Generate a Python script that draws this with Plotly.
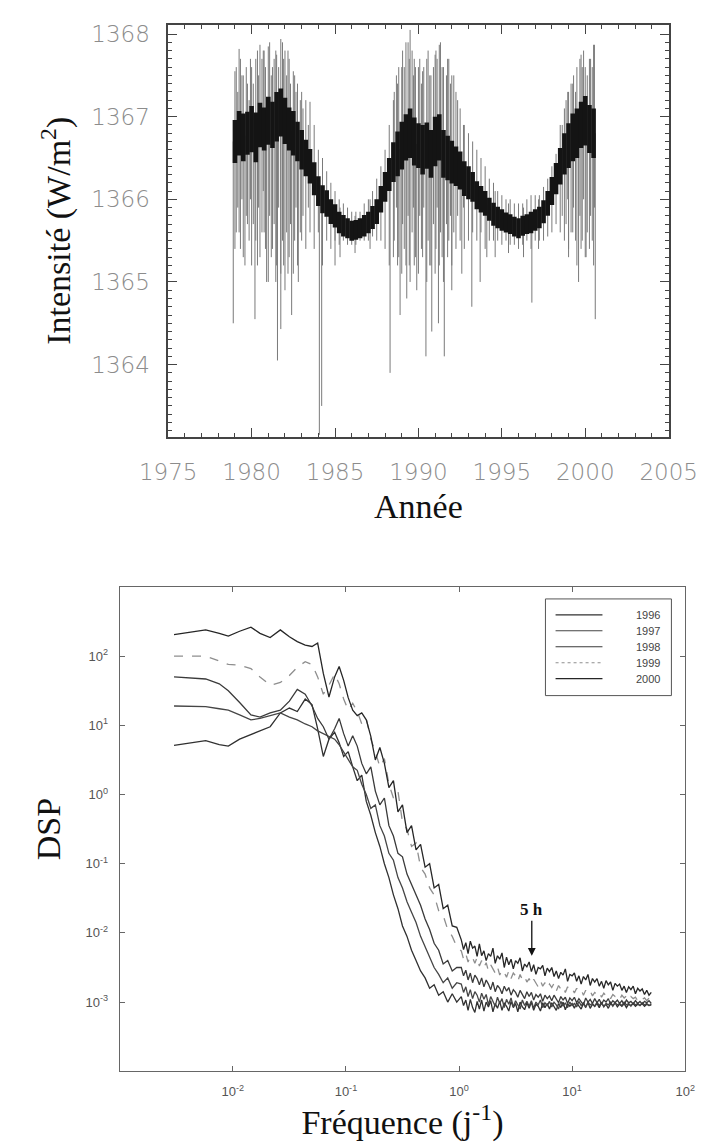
import numpy as np
import plotly.graph_objects as go

# ---------------- Top chart: total solar irradiance ----------------
tsi_years = [1979.00, 1979.25, 1979.50, 1979.75, 1980.00, 1980.25, 1980.50, 1980.75,
             1981.00, 1981.25, 1981.50, 1981.75, 1982.00, 1982.25, 1982.50, 1982.75,
             1983.00, 1983.25, 1983.50, 1983.75, 1984.00, 1984.25, 1984.50, 1984.75,
             1985.00, 1985.25, 1985.50, 1985.75, 1986.00, 1986.25, 1986.50, 1986.75,
             1987.00, 1987.25, 1987.50, 1987.75, 1988.00, 1988.25, 1988.50, 1988.75,
             1989.00, 1989.25, 1989.50, 1989.75, 1990.00, 1990.25, 1990.50, 1990.75,
             1991.00, 1991.25, 1991.50, 1991.75, 1992.00, 1992.25, 1992.50, 1992.75,
             1993.00, 1993.25, 1993.50, 1993.75, 1994.00, 1994.25, 1994.50, 1994.75,
             1995.00, 1995.25, 1995.50, 1995.75, 1996.00, 1996.25, 1996.50, 1996.75,
             1997.00, 1997.25, 1997.50, 1997.75, 1998.00, 1998.25, 1998.50, 1998.75,
             1999.00, 1999.25, 1999.50, 1999.75, 2000.00, 2000.25, 2000.50]
tsi_center = [1366.70, 1366.80, 1366.75, 1366.80, 1366.85, 1366.75, 1366.90, 1366.85,
              1366.95, 1366.90, 1367.00, 1367.05, 1366.95, 1366.85, 1366.80, 1366.70,
              1366.60, 1366.50, 1366.40, 1366.25, 1366.10, 1366.00, 1365.95, 1365.85,
              1365.80, 1365.72, 1365.68, 1365.65, 1365.62, 1365.63, 1365.65, 1365.68,
              1365.72, 1365.78, 1365.85, 1366.00, 1366.15, 1366.30, 1366.45, 1366.55,
              1366.65, 1366.75, 1366.80, 1366.70, 1366.65, 1366.60, 1366.65, 1366.55,
              1366.70, 1366.75, 1366.55, 1366.50, 1366.45, 1366.40, 1366.35, 1366.25,
              1366.20, 1366.15, 1366.05, 1366.00, 1365.95, 1365.88, 1365.82, 1365.78,
              1365.75, 1365.72, 1365.70, 1365.67, 1365.65, 1365.68, 1365.70, 1365.72,
              1365.75, 1365.78, 1365.85, 1365.95, 1366.10, 1366.25, 1366.40, 1366.55,
              1366.65, 1366.75, 1366.80, 1366.90, 1366.95, 1366.85, 1366.80]
tsi_halfwidth = [0.26, 0.27, 0.29, 0.26, 0.28, 0.30, 0.27, 0.26,
                 0.29, 0.28, 0.30, 0.29, 0.28, 0.26, 0.27, 0.24,
                 0.24, 0.22, 0.21, 0.20, 0.18, 0.17, 0.16, 0.15,
                 0.14, 0.13, 0.13, 0.12, 0.12, 0.12, 0.12, 0.13,
                 0.13, 0.14, 0.15, 0.16, 0.18, 0.20, 0.24, 0.27,
                 0.29, 0.28, 0.30, 0.29, 0.27, 0.30, 0.28, 0.29,
                 0.30, 0.28, 0.29, 0.27, 0.26, 0.24, 0.23, 0.21,
                 0.20, 0.18, 0.17, 0.16, 0.15, 0.14, 0.14, 0.13,
                 0.13, 0.12, 0.12, 0.12, 0.12, 0.12, 0.12, 0.13,
                 0.13, 0.13, 0.14, 0.15, 0.17, 0.19, 0.22, 0.25,
                 0.27, 0.29, 0.30, 0.28, 0.30, 0.29, 0.30]
tsi_min = [1365.40, 1365.60, 1365.30, 1365.70, 1365.20, 1365.50, 1365.30, 1365.60,
           1365.00, 1365.40, 1365.20, 1365.10, 1364.90, 1365.30, 1365.10, 1365.20,
           1365.50, 1365.40, 1365.60, 1365.40, 1365.60, 1365.20, 1365.50, 1365.40,
           1365.50, 1365.45, 1365.50, 1365.45, 1365.45, 1365.45, 1365.50, 1365.50,
           1365.50, 1365.55, 1365.50, 1365.50, 1365.40, 1365.20, 1365.30, 1365.20,
           1365.10, 1365.20, 1365.00, 1365.20, 1365.10, 1365.30, 1365.00, 1365.20,
           1365.10, 1365.20, 1365.00, 1365.30, 1365.20, 1365.40, 1365.50, 1365.40,
           1365.50, 1365.60, 1365.50, 1365.60, 1365.40, 1365.50, 1365.50, 1365.50,
           1365.45, 1365.50, 1365.45, 1365.45, 1365.40, 1365.45, 1365.50, 1365.40,
           1365.50, 1365.50, 1365.50, 1365.55, 1365.60, 1365.70, 1365.60, 1365.50,
           1365.40, 1365.60, 1365.20, 1365.40, 1365.30, 1365.40, 1365.20]
tsi_max = [1367.55, 1367.82, 1367.50, 1367.40, 1367.60, 1367.70, 1367.87, 1367.80,
           1367.85, 1367.60, 1367.75, 1367.94, 1367.80, 1367.70, 1367.55, 1367.40,
           1367.30, 1367.20, 1367.18, 1366.90, 1366.60, 1366.50, 1366.34, 1366.20,
           1366.10, 1366.00, 1365.95, 1365.90, 1365.85, 1365.85, 1365.85, 1365.95,
           1366.00, 1366.10, 1366.25, 1366.40, 1366.60, 1366.90, 1367.20, 1367.40,
           1367.60, 1367.90, 1368.05, 1367.70, 1367.60, 1367.55, 1367.70, 1367.50,
           1367.75, 1367.87, 1367.60, 1367.70, 1367.50, 1367.30, 1367.10, 1366.90,
           1366.80, 1366.70, 1366.60, 1366.50, 1366.40, 1366.25, 1366.20, 1366.10,
           1366.05, 1366.00, 1366.00, 1365.95, 1365.95, 1365.95, 1366.00, 1366.05,
           1366.05, 1366.05, 1366.15, 1366.25, 1366.40, 1366.55, 1366.90, 1367.10,
           1367.30, 1367.40, 1367.60, 1367.75, 1367.60, 1367.70, 1367.87]
# individual daily excursions (low, high) at irregular dates
exc_years = [1979.08, 1979.17, 1979.33, 1979.42, 1979.68, 1979.85, 1979.93, 1980.10,
             1980.35, 1980.42, 1980.62, 1980.70, 1980.83, 1981.08, 1981.18, 1981.35,
             1981.45, 1981.62, 1981.85, 1981.92, 1982.10, 1982.18, 1982.33, 1982.58,
             1982.66, 1982.92, 1983.08, 1983.40, 1985.30, 1986.20, 1987.10,
             1988.55, 1988.68, 1988.82, 1989.05, 1989.15, 1989.38, 1989.45, 1989.62,
             1989.70, 1989.82, 1990.08, 1990.18, 1990.32, 1990.58, 1990.68, 1990.90,
             1991.05, 1991.12, 1991.32, 1991.42, 1991.68, 1991.82, 1991.92, 1992.12,
             1992.35, 1992.70, 1994.60, 1995.40, 1996.30, 1997.20,
             1998.62, 1998.85, 1998.95, 1999.15, 1999.30, 1999.42, 1999.68, 1999.82,
             1999.90, 2000.12, 2000.32, 2000.42, 2000.55]
exc_low = [1365.6, 1365.9, 1365.4, 1366.0, 1365.8, 1365.5, 1366.0, 1365.7,
           1365.2, 1365.9, 1365.6, 1366.1, 1365.4, 1365.8, 1365.3, 1365.7,
           1365.0, 1365.9, 1365.5, 1365.2, 1365.6, 1365.1, 1365.7, 1365.5,
           1365.9, 1365.6, 1365.8, 1365.9, 1365.30, 1365.35, 1365.40,
           1365.5, 1365.9, 1365.3, 1365.7, 1365.4, 1365.8, 1365.2, 1365.6,
           1365.9, 1365.3, 1365.8, 1365.4, 1365.9, 1365.5, 1365.2, 1365.7,
           1365.4, 1365.9, 1365.6, 1365.3, 1365.7, 1365.5, 1365.8, 1365.6,
           1365.8, 1365.9, 1365.30, 1365.35, 1365.30, 1365.40,
           1365.8, 1365.7, 1366.0, 1365.6, 1365.9, 1365.5, 1365.8, 1365.5,
           1366.0, 1365.6, 1365.8, 1365.5, 1365.9]
exc_high = [1367.6, 1367.3, 1367.7, 1367.5, 1367.6, 1367.2, 1367.7, 1367.4,
            1367.8, 1367.5, 1367.7, 1367.8, 1367.6, 1367.9, 1367.5, 1367.7,
            1367.8, 1367.6, 1367.9, 1367.7, 1367.5, 1367.8, 1367.4, 1367.5,
            1367.3, 1367.2, 1367.1, 1366.9, 1365.90, 1365.80, 1366.00,
            1367.3, 1367.5, 1367.6, 1367.8, 1367.6, 1367.9, 1367.7, 1367.8,
            1367.5, 1367.6, 1367.7, 1367.4, 1367.6, 1367.8, 1367.5, 1367.6,
            1367.8, 1367.7, 1367.9, 1367.6, 1367.5, 1367.7, 1367.4, 1367.5,
            1367.2, 1366.9, 1366.10, 1365.95, 1365.90, 1366.00,
            1366.9, 1367.2, 1367.3, 1367.4, 1367.5, 1367.3, 1367.7, 1367.6,
            1367.8, 1367.5, 1367.7, 1367.6, 1367.87]
# deep individual dips (sunspot transits)
dip_years = [1978.90, 1979.60, 1980.20, 1980.90, 1981.55, 1981.75, 1982.40, 1982.80,
             1984.06, 1984.20, 1985.00, 1988.30, 1988.90, 1989.30, 1989.90, 1990.45,
             1990.80, 1991.20, 1991.55, 1992.00, 1992.60, 1993.20, 1993.70, 1994.10,
             1996.80, 1999.00, 1999.60, 2000.05, 2000.60]
dip_values = [1364.50, 1365.20, 1364.55, 1365.00, 1364.05, 1364.43, 1364.60, 1365.00,
              1363.15, 1363.50, 1365.20, 1363.90, 1364.60, 1364.80, 1364.90, 1364.10,
              1364.40, 1364.50, 1364.10, 1364.90, 1365.10, 1364.70, 1365.00, 1365.30,
              1364.75, 1365.30, 1365.00, 1365.30, 1364.55]

year_ticks = [1975, 1980, 1985, 1990, 1995, 2000, 2005]
tsi_ticks = [1364, 1365, 1366, 1367, 1368]

# ---------------- Bottom chart: DSP per year (log10 values) ----------------
freq_log10 = [-2.52, -2.38, -2.24, -2.12, -2.04, -1.94, -1.84, -1.76, -1.67, -1.58,
              -1.50, -1.43, -1.36, -1.30, -1.25, -1.20, -1.15, -1.10, -1.06, -1.02,
              -0.98, -0.94, -0.90, -0.86, -0.82, -0.78, -0.74, -0.70, -0.66, -0.62,
              -0.58, -0.54, -0.50, -0.46, -0.42, -0.38, -0.34, -0.30, -0.26, -0.22,
              -0.18, -0.14, -0.10, -0.06, -0.02,
              0.02, 0.04, 0.06, 0.08, 0.10, 0.12, 0.14, 0.16, 0.18, 0.20,
              0.22, 0.24, 0.26, 0.28, 0.30, 0.32, 0.34, 0.36, 0.38, 0.40,
              0.42, 0.44, 0.46, 0.48, 0.50, 0.52, 0.54, 0.56, 0.58, 0.60,
              0.62, 0.64, 0.66, 0.68, 0.70, 0.72, 0.74, 0.76, 0.78, 0.80,
              0.82, 0.84, 0.86, 0.88, 0.90, 0.92, 0.94, 0.96, 0.98, 1.00,
              1.02, 1.04, 1.06, 1.08, 1.10, 1.12, 1.14, 1.16, 1.18, 1.20,
              1.22, 1.24, 1.26, 1.28, 1.30, 1.32, 1.34, 1.36, 1.38, 1.40,
              1.42, 1.44, 1.46, 1.48, 1.50, 1.52, 1.54, 1.56, 1.58, 1.60,
              1.62, 1.64, 1.66, 1.68, 1.70]

dsp_1996_log10 = [0.71, 0.75, 0.78, 0.72, 0.70, 0.80, 0.87, 0.92, 0.98, 1.18,
                  1.25, 1.20, 1.38, 1.30, 0.95, 0.55, 0.80, 0.90, 0.75, 0.55,
                  0.62, 0.40, 0.20, 0.28, -0.10, -0.30, -0.55, -0.75, -1.00, -1.20,
                  -1.45, -1.65, -1.90, -2.05, -2.25, -2.40, -2.55, -2.65, -2.80, -2.75,
                  -2.90, -2.85, -3.00, -2.88, -3.00,
                  -2.92, -3.05, -2.97, -3.12, -2.96, -3.08, -3.15, -2.99, -3.10, -2.97,
                  -3.13, -3.00, -3.07, -2.98, -3.14, -3.02, -3.09, -2.99, -3.12, -3.01,
                  -3.06, -3.13, -2.99, -3.08, -3.02, -3.14, -3.00, -3.07, -3.11, -3.01,
                  -3.09, -3.00, -3.12, -3.03, -3.06, -3.13, -3.01, -3.08, -3.02, -3.10,
                  -3.01, -3.07, -3.12, -3.02, -3.08, -3.00, -3.11, -3.03, -3.06, -3.02,
                  -3.09, -3.01, -3.06, -3.10, -3.02, -3.07, -3.01, -3.09, -3.03, -3.06,
                  -3.02, -3.08, -3.01, -3.06, -3.03, -3.09, -3.02, -3.05, -3.01, -3.07,
                  -3.03, -3.06, -3.02, -3.08, -3.03, -3.05, -3.02, -3.06, -3.03, -3.05,
                  -3.02, -3.06, -3.03, -3.05, -3.04]
dsp_1997_log10 = [1.28, 1.28, 1.27, 1.24, 1.22, 1.15, 1.08, 1.10, 1.14, 1.18,
                  1.12, 1.08, 1.02, 0.98, 0.92, 0.88, 0.85, 0.80, 0.72, 0.62,
                  0.50, 0.40, 0.35, 0.15, 0.00, -0.20, -0.15, -0.45, -0.60, -0.85,
                  -0.95, -1.20, -1.35, -1.55, -1.70, -1.85, -2.05, -2.20, -2.35, -2.50,
                  -2.60, -2.72, -2.65, -2.80, -2.72,
                  -2.74, -2.86, -2.78, -2.92, -2.82, -2.95, -2.85, -2.90, -3.00, -2.87,
                  -2.96, -2.89, -3.04, -2.92, -2.98, -3.06, -2.93, -3.02, -2.95, -3.08,
                  -2.96, -3.03, -2.94, -3.07, -2.98, -3.04, -3.10, -2.97, -3.05, -2.99,
                  -3.06, -2.98, -3.09, -3.00, -3.04, -2.97, -3.08, -3.01, -3.05, -2.99,
                  -3.07, -3.00, -3.04, -3.10, -2.99, -3.06, -3.01, -3.08, -3.00, -3.05,
                  -3.02, -3.07, -2.99, -3.05, -3.01, -3.08, -3.00, -3.04, -3.02, -3.06,
                  -3.00, -3.05, -3.01, -3.07, -3.02, -3.04, -3.00, -3.06, -3.01, -3.04,
                  -3.02, -3.05, -3.00, -3.04, -3.02, -3.06, -3.01, -3.04, -3.02, -3.05,
                  -3.01, -3.04, -3.02, -3.05, -3.03]
dsp_1998_log10 = [1.70, 1.69, 1.67, 1.60, 1.50, 1.33, 1.15, 1.12, 1.18, 1.22,
                  1.35, 1.52, 1.45, 1.28, 1.10, 0.98, 0.80, 0.95, 1.10, 0.88,
                  0.70, 0.85, 0.70, 0.45, 0.30, 0.40, 0.05, -0.15, -0.05, -0.45,
                  -0.60, -0.85, -0.90, -1.15, -1.30, -1.45, -1.60, -1.80, -1.95, -2.15,
                  -2.25, -2.45, -2.40, -2.55, -2.50,
                  -2.50, -2.62, -2.54, -2.68, -2.58, -2.72, -2.61, -2.66, -2.75, -2.65,
                  -2.78, -2.68, -2.74, -2.82, -2.71, -2.85, -2.76, -2.80, -2.88, -2.77,
                  -2.84, -2.79, -2.90, -2.82, -2.86, -2.93, -2.83, -2.89, -2.95, -2.85,
                  -2.92, -2.86, -2.97, -2.89, -2.93, -2.88, -2.99, -2.90, -2.95, -2.91,
                  -2.98, -2.90, -2.96, -3.01, -2.92, -2.97, -2.93, -3.02, -2.94, -2.98,
                  -2.93, -3.01, -2.95, -2.99, -3.04, -2.94, -3.00, -2.96, -3.02, -2.95,
                  -3.01, -2.96, -3.03, -2.97, -3.00, -2.95, -3.03, -2.98, -3.01, -2.97,
                  -3.02, -2.98, -3.04, -2.97, -3.01, -2.99, -3.03, -2.98, -3.02, -2.99,
                  -3.03, -2.99, -3.01, -2.98, -3.02]
dsp_1999_log10 = [2.00, 2.00, 2.00, 1.93, 1.88, 1.87, 1.82, 1.70, 1.58, 1.62,
                  1.72, 1.84, 1.92, 1.88, 1.70, 1.45, 1.58, 1.74, 1.60, 1.38,
                  1.22, 1.32, 1.20, 1.02, 1.10, 0.80, 0.62, 0.40, 0.52, 0.15,
                  -0.05, 0.05, -0.40, -0.50, -0.75, -0.70, -1.05, -1.15, -1.35, -1.45,
                  -1.68, -1.75, -1.95, -2.05, -2.20,
                  -2.26, -2.38, -2.30, -2.42, -2.33, -2.36, -2.44, -2.35, -2.48, -2.40,
                  -2.50, -2.43, -2.55, -2.46, -2.52, -2.58, -2.49, -2.61, -2.53, -2.57,
                  -2.64, -2.55, -2.66, -2.58, -2.62, -2.70, -2.60, -2.68, -2.63, -2.71,
                  -2.66, -2.74, -2.67, -2.72, -2.78, -2.69, -2.77, -2.72, -2.80, -2.74,
                  -2.79, -2.73, -2.84, -2.76, -2.81, -2.77, -2.86, -2.78, -2.83, -2.80,
                  -2.87, -2.80, -2.85, -2.82, -2.90, -2.83, -2.88, -2.84, -2.91, -2.86,
                  -2.89, -2.85, -2.93, -2.87, -2.91, -2.88, -2.95, -2.89, -2.92, -2.90,
                  -2.96, -2.90, -2.94, -2.91, -2.97, -2.92, -2.95, -2.93, -2.98, -2.93,
                  -2.96, -2.94, -2.98, -2.94, -2.96]
dsp_2000_log10 = [2.31, 2.34, 2.38, 2.33, 2.29, 2.36, 2.42, 2.33, 2.27, 2.38,
                  2.28, 2.21, 2.16, 2.14, 2.19, 1.75, 1.41, 1.70, 1.85, 1.65,
                  1.40, 1.22, 1.14, 1.18, 1.08, 0.84, 0.50, 0.68, 0.45, 0.10,
                  0.20, -0.25, -0.15, -0.55, -0.45, -0.80, -0.72, -1.05, -1.00, -1.35,
                  -1.30, -1.65, -1.60, -1.90, -1.92,
                  -2.10, -2.24, -2.14, -2.30, -2.12, -2.22, -2.19, -2.34, -2.16, -2.33,
                  -2.26, -2.40, -2.30, -2.34, -2.22, -2.44, -2.33, -2.38, -2.29, -2.50,
                  -2.35, -2.46, -2.38, -2.52, -2.40, -2.44, -2.36, -2.55, -2.45, -2.49,
                  -2.42, -2.56, -2.46, -2.60, -2.50, -2.52, -2.47, -2.62, -2.51, -2.56,
                  -2.50, -2.63, -2.55, -2.66, -2.57, -2.61, -2.52, -2.70, -2.60, -2.62,
                  -2.58, -2.70, -2.62, -2.74, -2.63, -2.68, -2.60, -2.76, -2.66, -2.71,
                  -2.66, -2.77, -2.70, -2.80, -2.69, -2.75, -2.71, -2.83, -2.73, -2.77,
                  -2.74, -2.83, -2.77, -2.86, -2.78, -2.82, -2.77, -2.88, -2.80, -2.84,
                  -2.81, -2.89, -2.83, -2.90, -2.86]

series_names = ["1996", "1997", "1998", "1999", "2000"]
series_vals = [dsp_1996_log10, dsp_1997_log10, dsp_1998_log10, dsp_1999_log10, dsp_2000_log10]
series_colors = ["#303030", "#454545", "#3a3a3a", "#8e8e8e", "#262626"]
series_dash = ["solid", "solid", "solid", "dash", "solid"]

freq_ticks = [0.01, 0.1, 1, 10, 100]
freq_ticktext = ["10<sup>-2</sup>", "10<sup>-1</sup>", "10<sup>0</sup>", "10<sup>1</sup>", "10<sup>2</sup>"]
dsp_ticks = [1e-3, 1e-2, 1e-1, 1, 10, 100]
dsp_ticktext = ["10<sup>-3</sup>", "10<sup>-2</sup>", "10<sup>-1</sup>", "10<sup>0</sup>", "10<sup>1</sup>", "10<sup>2</sup>"]
arrow_freq = 4.4
arrow_dsp = 10 ** -2.33

W, H = 720, 1142
fig = go.Figure()

# thin grey excursions
sx, sy = [], []
for yr, lo, hi in zip(tsi_years, tsi_min, tsi_max):
    sx += [yr, yr, None]
    sy += [lo, hi, None]
for yr, lo, hi in zip(exc_years, exc_low, exc_high):
    sx += [yr, yr, None]
    sy += [lo, hi, None]
for yr, v in zip(dip_years, dip_values):
    c = float(np.interp(yr, tsi_years, tsi_center))
    sx += [yr, yr, None]
    sy += [v, c, None]
fig.add_trace(go.Scatter(x=sx, y=sy, mode="lines", line=dict(color="#7a7a7a", width=1),
                         showlegend=False, hoverinfo="skip", xaxis="x", yaxis="y"))
# dense core band
cx, cy = [], []
for yr, c, h in zip(tsi_years, tsi_center, tsi_halfwidth):
    cx += [yr, yr, None]
    cy += [c - h, c + h, None]
fig.add_trace(go.Scatter(x=cx, y=cy, mode="lines", line=dict(color="#141414", width=4.6),
                         showlegend=False, hoverinfo="skip", xaxis="x", yaxis="y"))

# DSP curves
freqs = [10 ** v for v in freq_log10]
for name, vals, col, dash in zip(series_names, series_vals, series_colors, series_dash):
    fig.add_trace(go.Scatter(x=freqs, y=[10 ** v for v in vals], mode="lines", name=name,
                             line=dict(color=col, width=1.3, dash=dash),
                             showlegend=False, xaxis="x2", yaxis="y2"))

# legend box drawn in the reference style (line sample left, year right-aligned)
leg_x0, leg_x1, leg_y0, leg_y1 = 553, 690, 589, 686
row_y = [605, 621, 637, 653, 669]
shapes = [dict(type="rect", xref="paper", yref="paper",
               x0=leg_x0 / W, x1=leg_x1 / W, y0=1 - leg_y1 / H, y1=1 - leg_y0 / H,
               line=dict(color="#555555", width=1), fillcolor="white", layer="above")]
annotations = []
for name, col, dash, ry in zip(series_names, series_colors, series_dash, row_y):
    shapes.append(dict(type="line", xref="paper", yref="paper", x0=564 / W, x1=615 / W,
                       y0=1 - ry / H, y1=1 - ry / H, layer="above",
                       line=dict(color=col, width=1.1, dash="dot" if dash == "dash" else "solid")))
    annotations.append(dict(x=680 / W, y=1 - ry / H, xref="paper", yref="paper", text=name,
                            showarrow=False, xanchor="right", yanchor="middle",
                            font=dict(family="Liberation Sans, Arial, sans-serif", size=11, color="#444444")))

annotations.append(dict(x=np.log10(arrow_freq), y=np.log10(arrow_dsp), xref="x2", yref="y2",
                        text="<b>5 h</b>", showarrow=True, arrowhead=2, arrowsize=1.2,
                        arrowwidth=1.3, arrowcolor="#111", ax=0, ay=-46,
                        font=dict(family="Liberation Serif, Times New Roman, serif", size=17, color="#111")))

serif = "Liberation Serif, Times New Roman, serif"
top_tick_font = dict(family="DejaVu Sans, sans-serif", size=23, color="#8c8c8c", weight=200)
bot_tick_font = dict(family="Liberation Sans, Arial, sans-serif", size=13, color="#555555")

fig.update_layout(
    width=W, height=H,
    margin=dict(l=0, r=0, t=0, b=0),
    paper_bgcolor="white", plot_bgcolor="white",
    showlegend=False,
    shapes=shapes,
    annotations=annotations,
    xaxis=dict(domain=[142.7 / W, 687 / W], anchor="y", range=[1975, 2005],
               tickvals=year_ticks, ticks="inside", ticklen=9, tickwidth=1.2, tickcolor="#444",
               minor=dict(dtick=1, tick0=1975, ticks="inside", ticklen=4, tickcolor="#444"),
               showline=True, linecolor="#444", linewidth=1.6, mirror="ticks",
               showgrid=False, zeroline=False, tickfont=top_tick_font, ticklabelstandoff=14,
               title=dict(text="Année", font=dict(family=serif, size=34, color="#111"), standoff=10)),
    yaxis=dict(domain=[1 - 426 / H, 1 - 13 / H], anchor="x", range=[1363.13, 1368.11],
               tickvals=tsi_ticks, ticks="inside", ticklen=9, tickwidth=1.2, tickcolor="#444",
               minor=dict(dtick=0.1, tick0=1363, ticks="inside", ticklen=4, tickcolor="#444"),
               showline=True, linecolor="#444", linewidth=1.6, mirror="ticks",
               showgrid=False, zeroline=False, tickfont=top_tick_font, ticklabelstandoff=12,
               tickformat="d",
               title=dict(text="Intensité (W/m<sup>2</sup>)", font=dict(family=serif, size=34, color="#111"), standoff=10)),
    xaxis2=dict(domain=[90 / W, 705 / W], anchor="y2", type="log", range=[-3, 2],
                tickvals=freq_ticks, ticktext=freq_ticktext, ticks="inside", ticklen=5,
                tickcolor="#666", showline=True, linecolor="#666", linewidth=1.3, mirror="ticks",
                showgrid=False, zeroline=False, tickfont=bot_tick_font, ticklabelstandoff=8,
                title=dict(text="Fréquence (j<sup>-1</sup>)", font=dict(family=serif, size=34, color="#111"), standoff=8)),
    yaxis2=dict(domain=[1 - 1063 / H, 1 - 577 / H], anchor="x2", type="log", range=[-4, 3],
                tickvals=dsp_ticks, ticktext=dsp_ticktext, ticks="inside", ticklen=5,
                tickcolor="#666", showline=True, linecolor="#666", linewidth=1.3, mirror="ticks",
                showgrid=False, zeroline=False, tickfont=bot_tick_font, ticklabelstandoff=8,
                title=dict(text="DSP", font=dict(family=serif, size=34, color="#111"), standoff=14)),
)

fig.write_html("out.html")
